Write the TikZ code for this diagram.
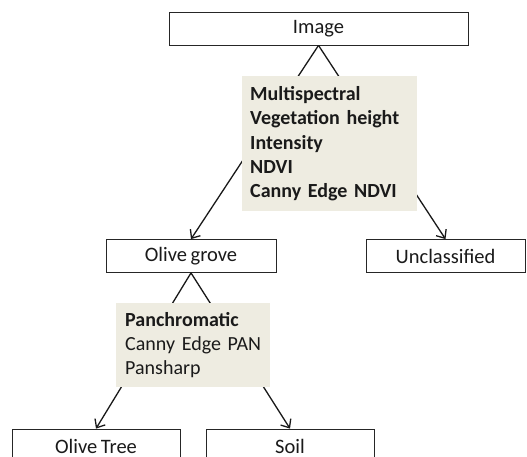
\documentclass[tikz,border=0pt]{standalone}
\usepackage{fontspec}
\setmainfont{Carlito}
\usetikzlibrary{arrows.meta}
\definecolor{graybg}{HTML}{EEECE1}
\definecolor{txt}{HTML}{1A1A1A}
\newcommand\boxfnt{\fontsize{20.5}{24}\selectfont\spaceskip=3.6pt plus 1pt minus 1pt\relax}
\newcommand\featfnt{\fontsize{20}{24.2}\selectfont\spaceskip=4.2pt plus 1pt minus 1pt\relax}
\tikzset{
  box/.style={draw=black!85, line width=0.8pt, minimum height=33pt, inner sep=0pt,
    font=\boxfnt, text=txt},
  feat/.style={fill=graybg, inner ysep=0pt, align=left, anchor=north west,
    font=\featfnt, text=txt},
  conn/.style={line width=1.3pt, draw=black!90, -{Straight Barb[length=7pt,width=12pt,line width=1.3pt]}},
}
\begin{document}
\begin{tikzpicture}[x=1pt,y=-1pt]
\useasboundingbox (0,0) rectangle (527,457);
\clip (0,0) rectangle (527,457);
\fill[white] (0,0) rectangle (527,457);
\node[box, minimum width=299pt] (img) at (318.5,28.5) {Image};
\node[box, minimum width=170pt] (og) at (191,256) {Olive grove};
\node[box, minimum width=159pt] (uncl) at (445.5,256) {Unclassified};
\node[box, minimum width=168pt, minimum height=34pt] (ot) at (96,446) {Olive Tree};
\node[box, minimum width=168pt, minimum height=34pt] (soil) at (290,446) {Soil};
\draw[conn] (img.south) -- (og.north);
\draw[conn] (img.south) -- (uncl.north);
\draw[conn] (og.south) -- (ot.north);
\draw[conn] (og.south) -- (soil.north);
\node[feat, inner xsep=8pt, text width=159pt, minimum width=175pt, minimum height=135pt] (ms) at (242,76)
  {\bfseries Multispectral\\\bfseries Vegetation height\\\bfseries Intensity\\\bfseries NDVI\\\bfseries Canny Edge NDVI};
\node[feat, inner xsep=9pt, text width=136pt, minimum width=154pt, minimum height=84pt] (pan) at (116,303)
  {\mbox{\bfseries Panchromatic}\\\mbox{Canny Edge PAN}\\\mbox{Pansharp}};
\end{tikzpicture}
\end{document}
